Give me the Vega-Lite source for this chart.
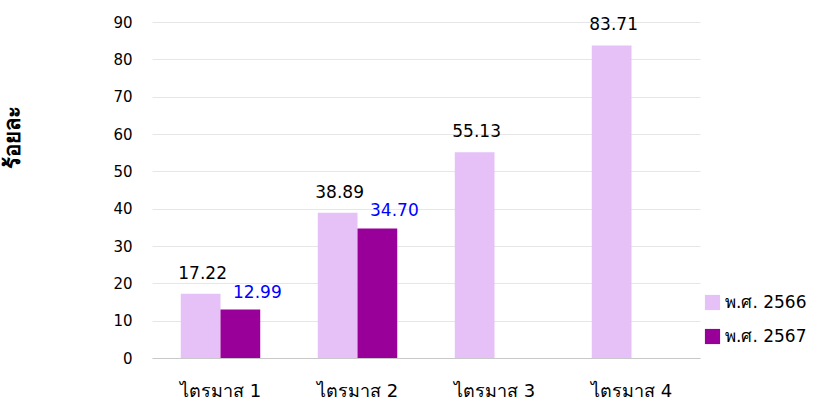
{
  "$schema": "https://vega.github.io/schema/vega-lite/v6.json",
  "width": 548,
  "height": 336,
  "autosize": {"type": "none"},
  "padding": {"left": 152, "top": 22, "right": 118, "bottom": 43},
  "config": {
    "view": {"stroke": null},
    "font": "DejaVu Sans"
  },
  "data": {
    "values": [
      {"q": "ไตรมาส 1", "year": "พ.ศ. 2566", "v": 17.22},
      {"q": "ไตรมาส 1", "year": "พ.ศ. 2567", "v": 12.99},
      {"q": "ไตรมาส 2", "year": "พ.ศ. 2566", "v": 38.89},
      {"q": "ไตรมาส 2", "year": "พ.ศ. 2567", "v": 34.70},
      {"q": "ไตรมาส 3", "year": "พ.ศ. 2566", "v": 55.13},
      {"q": "ไตรมาส 4", "year": "พ.ศ. 2566", "v": 83.71}
    ]
  },
  "encoding": {
    "x": {
      "field": "q", "type": "nominal",
      "scale": {"paddingInner": 0.42, "paddingOuter": 0.21},
      "axis": {"title": null, "labelAngle": 0, "labelFontSize": 18, "labelColor": "#000", "labelPadding": 24, "ticks": false, "domainColor": "#c8c8c8"}
    },
    "xOffset": {"field": "year", "type": "nominal", "scale": {"domain": ["พ.ศ. 2566", "พ.ศ. 2567"], "paddingInner": 0}},
    "y": {
      "field": "v", "type": "quantitative",
      "scale": {"domain": [0, 90]},
      "axis": {"title": "ร้อยละ", "titleFontSize": 22, "titleFontWeight": "bold", "titleColor": "#000", "titleX": -128, "titleY": 115, "values": [0,10,20,30,40,50,60,70,80,90], "labelFontSize": 15, "labelColor": "#000", "labelPadding": 20, "ticks": false, "domain": false, "gridColor": "#e6e6e6"}
    }
  },
  "layer": [
    {
      "mark": {"type": "bar"},
      "encoding": {
        "color": {
          "field": "year", "type": "nominal",
          "scale": {"domain": ["พ.ศ. 2566", "พ.ศ. 2567"], "range": ["#E5C1F8", "#990099"]},
          "legend": {"title": null, "orient": "none", "legendX": 552, "legendY": 272, "symbolType": "square", "symbolSize": 230, "labelFontSize": 17, "labelColor": "#000", "rowPadding": 16, "symbolOpacity": 1}
        }
      }
    },
    {
      "transform": [{"filter": "datum.year == 'พ.ศ. 2566'"}],
      "mark": {"type": "text", "dy": -20, "dx": 2, "fontSize": 17, "color": "#000"},
      "encoding": {"text": {"field": "v", "type": "quantitative", "format": ".2f"}}
    },
    {
      "transform": [{"filter": "datum.year == 'พ.ศ. 2567'"}],
      "mark": {"type": "text", "dy": -17, "dx": 17, "fontSize": 17, "color": "#0000FF"},
      "encoding": {"text": {"field": "v", "type": "quantitative", "format": ".2f"}}
    }
  ]
}
